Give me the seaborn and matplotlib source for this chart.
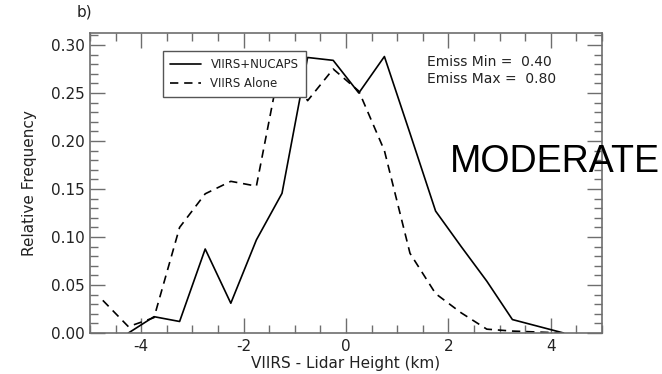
import matplotlib
matplotlib.use("Agg")
import matplotlib.pyplot as plt
import seaborn as sns
import pandas as pd
from matplotlib.ticker import MultipleLocator

# ---- data ----
bin_centers = [-4.75, -4.25, -3.75, -3.25, -2.75, -2.25, -1.75, -1.25, -0.75,
               -0.25, 0.25, 0.75, 1.25, 1.75, 2.25, 2.75, 3.25, 3.75, 4.25]
viirs_nucaps = [None, 0.000, 0.017, 0.012, 0.0875, 0.031, 0.097, 0.1455, 0.287,
                0.284, 0.250, 0.288, 0.208, 0.127, 0.090, 0.054, 0.014, 0.007, 0.000]
viirs_alone = [0.034, 0.0066, 0.016, 0.110, 0.145, 0.158, 0.153, 0.290, 0.242,
               0.275, 0.252, 0.190, 0.083, 0.041, 0.021, 0.004, 0.002, 0.001, 0.000]
series_names = ["VIIRS+NUCAPS", "VIIRS Alone"]
x_ticks = [-4, -2, 0, 2, 4]
y_ticks = [0.00, 0.05, 0.10, 0.15, 0.20, 0.25, 0.30]
annotation_lines = ["Emiss Min =  0.40", "Emiss Max =  0.80"]
panel_label = "b)"
overlay_text = "MODERATE"

df_nucaps = pd.DataFrame({"x": bin_centers, "y": viirs_nucaps}).dropna()
df_alone = pd.DataFrame({"x": bin_centers, "y": viirs_alone}).dropna()

sns.set_style("ticks")
plt.rcParams["font.family"] = ["DejaVu Sans"]

fig = plt.figure(figsize=(6.62, 3.74), dpi=100)
ax = fig.add_axes([90 / 662, 1 - 333 / 374, 512 / 662, 300 / 374])

sns.lineplot(data=df_nucaps, x="x", y="y", ax=ax, color="black", lw=1.2,
             label=series_names[0], sort=False)
sns.lineplot(data=df_alone, x="x", y="y", ax=ax, color="black", lw=1.2,
             linestyle=(0, (5, 3.5)), label=series_names[1], sort=False)

ax.set_xlim(-5, 5)
ax.set_ylim(0, 0.3125)
ax.set_xticks(x_ticks)
ax.set_yticks(y_ticks)
ax.xaxis.set_minor_locator(MultipleLocator(0.5))
ax.yaxis.set_minor_locator(MultipleLocator(0.01))
ax.set_yticklabels([f"{v:.2f}" for v in y_ticks])
ax.set_xticklabels([f"{v:d}" for v in x_ticks])

spine_col = "#6e6e6e"
for s in ax.spines.values():
    s.set_color(spine_col)
    s.set_linewidth(1.2)
ax.tick_params(which="both", direction="in", top=True, right=True,
               color=spine_col, width=1.0, labelsize=11, labelcolor="#222222")
ax.tick_params(which="major", length=11, pad=4)
ax.tick_params(which="minor", length=5.8)

ax.set_xlabel("VIIRS - Lidar Height (km)", fontsize=11, color="#222222", labelpad=2)
ax.set_ylabel("Relative Frequency", fontsize=11, color="#222222", labelpad=10)

leg = ax.legend(loc="upper left", bbox_to_anchor=(0.143, 0.941), fontsize=8.5,
                frameon=True, fancybox=False, handlelength=2.6,
                borderpad=0.6, labelspacing=0.5, handletextpad=0.8,
                borderaxespad=0)
leg.get_frame().set_edgecolor("#555555")
leg.get_frame().set_linewidth(1.0)
leg.get_frame().set_alpha(1)
for t in leg.get_texts():
    t.set_color("#222222")

ax.text(0.658, 0.927, "\n".join(annotation_lines), transform=ax.transAxes,
        ha="left", va="top", fontsize=10, color="#222222", linespacing=1.25)

fig.text(77 / 662, 1 - 12 / 374, panel_label, ha="left", va="center",
         fontsize=11, color="#222222")
fig.text(450 / 662, 1 - 172 / 374, overlay_text, ha="left", va="baseline",
         fontsize=27, color="black", family=["Liberation Sans", "DejaVu Sans"])

fig.savefig("out.png", dpi=100)
